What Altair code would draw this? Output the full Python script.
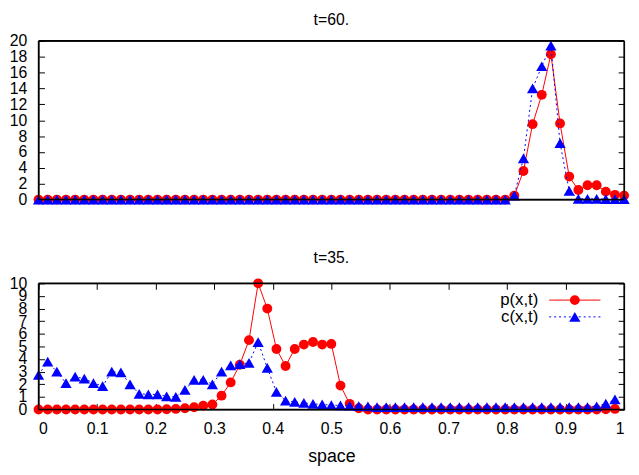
import altair as alt
import pandas as pd

FONT = "Liberation Sans"

# ---- data ----
space_top = [i / 64 for i in range(65)]
p_t60 = [0, 0, 0, 0, 0, 0, 0, 0, 0, 0,
         0, 0, 0, 0, 0, 0, 0, 0, 0, 0,
         0, 0, 0, 0, 0, 0, 0, 0, 0, 0,
         0, 0, 0, 0, 0, 0, 0, 0, 0, 0,
         0, 0, 0, 0, 0, 0, 0, 0, 0, 0,
         0, 0, 0.5, 3.6, 9.5, 13.2, 18.3, 9.6, 2.9, 1.2,
         1.8, 1.8, 1.0, 0.6, 0.5]
c_t60 = [0, 0, 0, 0, 0, 0, 0, 0, 0, 0,
         0, 0, 0, 0, 0, 0, 0, 0, 0, 0,
         0, 0, 0, 0, 0, 0, 0, 0, 0, 0,
         0, 0, 0, 0, 0, 0, 0, 0, 0, 0,
         0, 0, 0, 0, 0, 0, 0, 0, 0, 0,
         0, 0, 0.5, 5.2, 14.0, 16.8, 19.4, 7.1, 1.1, 0.1,
         0.1, 0.1, 0.05, 0.05, 0.05]

space_bot = [i / 64 for i in range(64)]
p_t35 = [0, 0, 0, 0, 0, 0, 0, 0, 0, 0,
         0, 0, 0, 0, 0.02, 0.05, 0.1, 0.18, 0.3, 0.4,
         1.1, 2.15, 3.55, 5.5, 10.0, 8.0, 4.8, 3.45, 4.8, 5.15,
         5.35, 5.15, 5.2, 1.9, 0.45, 0.1, 0, 0, 0, 0,
         0, 0, 0, 0, 0, 0, 0, 0, 0, 0,
         0, 0, 0, 0, 0, 0, 0, 0, 0, 0,
         0, 0, 0.02, 0.05]
c_t35 = [2.75, 3.8, 3.0, 2.1, 2.6, 2.45, 2.1, 1.85, 3.0, 2.95,
         2.0, 1.25, 1.2, 1.2, 1.05, 1.0, 1.55, 2.35, 2.35, 2.0,
         3.0, 3.5, 3.6, 3.7, 5.35, 3.3, 1.4, 0.7, 0.6, 0.52,
         0.45, 0.4, 0.35, 0.33, 0.3, 0.27, 0.25, 0.2, 0.2, 0.2,
         0.2, 0.2, 0.2, 0.2, 0.2, 0.2, 0.2, 0.2, 0.2, 0.2,
         0.2, 0.2, 0.2, 0.2, 0.2, 0.2, 0.2, 0.2, 0.2, 0.2,
         0.2, 0.25, 0.47, 0.8]

x_ticks = [0, 0.1, 0.2, 0.3, 0.4, 0.5, 0.6, 0.7, 0.8, 0.9, 1]
legend_labels = ["p(x,t)", "c(x,t)"]

RED = "#ff0000"
BLUE = "#0000ff"
FRAME = "#000000"
W = 594


def frame_layers(h):
    """gnuplot-style border around the plot area (pure layout, no data)."""
    fr = alt.Chart(pd.DataFrame({"k": [0]}))
    style = dict(color=FRAME, strokeWidth=1.5, opacity=1)
    return [
        fr.mark_rule(**style).encode(x=alt.value(0), x2=alt.value(W), y=alt.value(0)),
        fr.mark_rule(**style).encode(x=alt.value(0), x2=alt.value(W), y=alt.value(h)),
        fr.mark_rule(**style).encode(x=alt.value(0), y=alt.value(0), y2=alt.value(h)),
        fr.mark_rule(**style).encode(x=alt.value(W), y=alt.value(0), y2=alt.value(h)),
    ]


def panel(xs, p, c, ymax, ystep, h, show_x):
    df = pd.DataFrame({"space": xs, "p": p, "c": c})
    base = alt.Chart(df)
    xs_ = alt.Scale(domain=[0, 1], nice=False, zero=False)
    ys_ = alt.Scale(domain=[0, ymax], nice=False)
    yvals = list(range(0, ymax + 1, ystep))

    left_axis = alt.Axis(orient="left", values=yvals, offset=-6, tickSize=6,
                         labelPadding=12, domain=False, grid=False,
                         labelFontSize=16, labelColor="black", tickColor="black",
                         labelFont=FONT, title=None, labelOverlap=False,
                         labelBaseline="middle")
    right_axis = alt.Axis(orient="right", values=yvals, offset=-6, tickSize=6,
                          labels=False, domain=False, grid=False,
                          tickColor="black", title=None)
    if show_x:
        bottom_axis = alt.Axis(orient="bottom", values=x_ticks, offset=-6, tickSize=6,
                               labelPadding=11, domain=False, grid=False,
                               labelFontSize=16, labelColor="black", tickColor="black",
                               labelFont=FONT, title="space", titleFontSize=18,
                               titleFont=FONT, titleFontWeight="normal",
                               titleColor="black", titlePadding=12,
                               format="g", labelOverlap=False)
        top_axis = alt.Axis(orient="top", values=x_ticks, offset=-6, tickSize=6,
                            labels=False, domain=False, grid=False,
                            tickColor="black", title=None)
    else:
        bottom_axis = None
        top_axis = None

    red_line = base.mark_line(color=RED, strokeWidth=1, clip=False).encode(
        x=alt.X("space:Q", scale=xs_, axis=bottom_axis),
        y=alt.Y("p:Q", scale=ys_, axis=left_axis),
    )
    red_pts = base.mark_point(shape="circle", filled=True, size=100, color=RED,
                              opacity=1, clip=False).encode(
        x=alt.X("space:Q", scale=xs_, axis=None),
        y=alt.Y("p:Q", scale=ys_, axis=None),
    )
    blue_line = base.mark_line(color=BLUE, strokeWidth=1, strokeDash=[2, 3],
                               clip=False).encode(
        x=alt.X("space:Q", scale=xs_, axis=top_axis),
        y=alt.Y("c:Q", scale=ys_, axis=right_axis),
    )
    blue_pts = base.mark_point(shape="triangle-up", filled=True, size=130,
                               color=BLUE, opacity=1, clip=False).encode(
        x=alt.X("space:Q", scale=xs_, axis=None),
        y=alt.Y("c:Q", scale=ys_, axis=None),
    )
    return [red_line, red_pts, blue_line, blue_pts] + frame_layers(h)


def finish(layers, h, title, title_offset):
    return alt.layer(*layers).resolve_axis(
        x="independent", y="independent"
    ).properties(
        width=W, height=h,
        title=alt.TitleParams(title, fontSize=16, fontWeight="normal", font=FONT,
                              color="black", offset=title_offset, anchor="middle"),
    )


top = finish(panel(space_top, p_t60, c_t60, 20, 2, 161, False), 161, "t=60.", 5)

bot_layers = panel(space_bot, p_t35, c_t35, 10, 1, 128, True)

# gnuplot-style key (labels left, sample right), placed inside the bottom panel
leg_p = alt.Chart(pd.DataFrame({"label": [legend_labels[0]]}))
leg_c = alt.Chart(pd.DataFrame({"label": [legend_labels[1]]}))
legend_layers = [
    leg_p.mark_text(align="right", baseline="middle", fontSize=17, font=FONT,
                    color="black").encode(text="label:N", x=alt.value(507), y=alt.value(17)),
    leg_c.mark_text(align="right", baseline="middle", fontSize=17, font=FONT,
                    color="black").encode(text="label:N", x=alt.value(507), y=alt.value(34)),
    leg_p.mark_rule(color=RED, strokeWidth=1).encode(
        x=alt.value(518), x2=alt.value(570), y=alt.value(17)),
    leg_p.mark_point(shape="circle", filled=True, size=100, color=RED, opacity=1).encode(
        x=alt.value(544), y=alt.value(17)),
    leg_c.mark_rule(color=BLUE, strokeWidth=1, strokeDash=[2, 3]).encode(
        x=alt.value(518), x2=alt.value(570), y=alt.value(34)),
    leg_c.mark_point(shape="triangle-up", filled=True, size=130, color=BLUE,
                     opacity=1).encode(x=alt.value(544), y=alt.value(34)),
]
bottom = finish(bot_layers + legend_layers, 128, "t=35.", 10)

chart = alt.vconcat(top, bottom, spacing=41).properties(
    padding=0
).configure(
    font=FONT
).configure_view(
    stroke=FRAME, strokeWidth=1
)

chart.save("out.html", embed_options={"renderer": "svg", "actions": False})
